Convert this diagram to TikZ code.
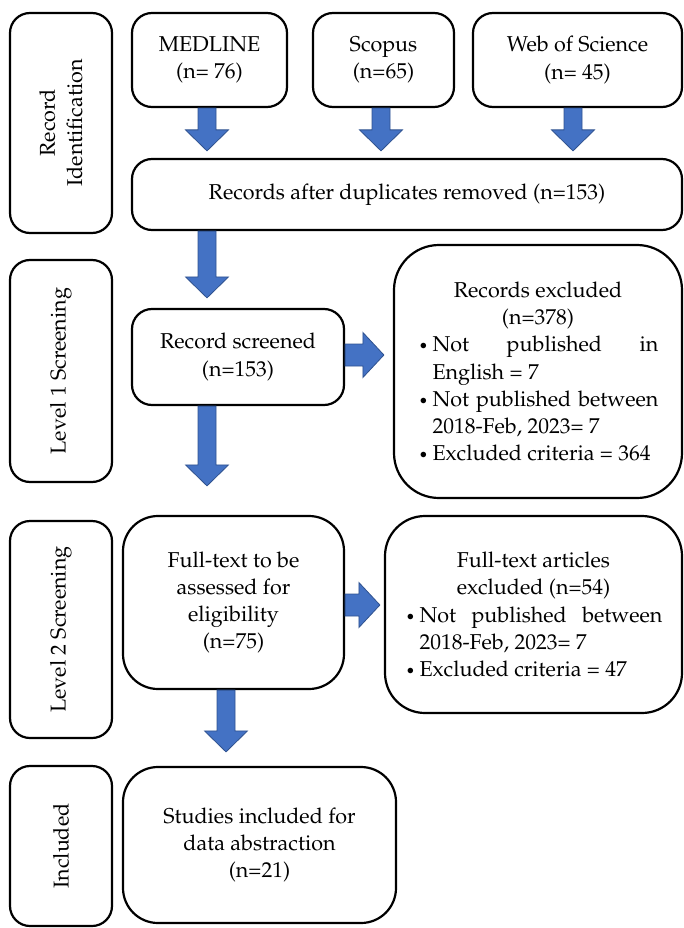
\documentclass[tikz,border=0pt]{standalone}
\usepackage[T1]{fontenc}
\usepackage{mathpazo}
\usetikzlibrary{calc}

\definecolor{arrowfill}{HTML}{4472C4}
\definecolor{arrowedge}{HTML}{2F528F}

% bullet line with hanging indent
\newcommand{\bulletline}{\par\hangindent=15pt\hangafter=1\noindent
  \hbox to 15pt{\hskip1pt{\fontsize{16}{16}\selectfont\textbullet}\hfil}}

\tikzset{
  box/.style={draw, line width=2.2pt, rounded corners=20pt, align=center, inner sep=0pt,
    font=\fontsize{21.5}{27.3}\selectfont},
  bigbox/.style={box, rounded corners=40pt},
  sidebox/.style={box, rotate=90, minimum height=102pt},
  fatdown/.style={fill=arrowfill, draw=arrowedge, line width=0.8pt,
    to path={let \p1=(\tikztostart), \p2=(\tikztotarget) in
      (\x1-9pt,\y1) -- (\x1+9pt,\y1) -- (\x1+9pt,\y2+21pt) -- (\x1+21.5pt,\y2+21pt)
      -- (\x1,\y2) -- (\x1-21.5pt,\y2+21pt) -- (\x1-9pt,\y2+21pt) -- cycle}},
  fatright/.style={fill=arrowfill, draw=arrowedge, line width=0.8pt,
    to path={let \p1=(\tikztostart), \p2=(\tikztotarget) in
      (\x1,\y1+11pt) -- (\x2-21pt,\y1+11pt) -- (\x2-21pt,\y1+22.5pt) -- (\x2,\y1)
      -- (\x2-21pt,\y1-22.5pt) -- (\x2-21pt,\y1-11pt) -- (\x1,\y1-11pt) -- cycle}}
}

\begin{document}
\begin{tikzpicture}[x=1pt, y=-1pt]
    \useasboundingbox (0,0) rectangle (683,928);

    % Stage labels
    \node[sidebox, minimum width=220pt] (ident) at (61,123) {Record\\Identification};
    \node[sidebox, minimum width=222pt] (lev1) at (61,371) {Level 1 Screening};
    \node[sidebox, minimum width=217pt] (lev2) at (61,629.5) {Level 2 Screening};
    \node[sidebox, minimum width=160pt] (incl) at (61,846) {Included};

    % Databases
    \node[box, minimum width=155pt, minimum height=94pt] (med) at (209.5,60) {MEDLINE\\(n= 76)};
    \node[box, minimum width=141pt, minimum height=94pt] (sco) at (383.5,60) {Scopus\\(n=65)};
    \node[box, minimum width=209pt, minimum height=94pt] (wos) at (577.5,60) {Web of Science\\(n= 45)};

    % Duplicates removed
    \node[box, minimum width=550pt, minimum height=71pt] (dup) at (407,194.5)
        {Records after duplicates removed (n=153)};

    % Level 1
    \node[box, minimum width=212pt, minimum height=96pt] (scr) at (238,357) {Record screened\\(n=153)};
    \node[bigbox, rounded corners=45pt, minimum width=288pt, minimum height=253pt,
          text width=241pt, align=justify] (ex1) at (538,371.5)
        {\sloppy{\centering Records excluded\par (n=378)\par}
         \bulletline Not published in\linebreak English = 7
         \bulletline Not published between\linebreak 2018-Feb, 2023= 7
         \bulletline Excluded criteria = 364\par};

    % Level 2
    \node[bigbox, rounded corners=35pt, minimum width=221pt, minimum height=173pt] (ft) at (233.5,602.5)
        {Full-text to be\\assessed for\\eligibility\\(n=75)};
    \node[bigbox, minimum width=297pt, minimum height=197pt,
          text width=258pt, align=justify] (ex2) at (533.5,614.5)
        {\sloppy{\centering Full-text articles\par excluded (n=54)\par}
         \bulletline Not published between\linebreak 2018-Feb, 2023= 7
         \bulletline Excluded criteria = 47\par};

    % Included
    \node[bigbox, rounded corners=35pt, minimum width=273pt, minimum height=156pt] (stud) at (259.5,845)
        {Studies included for\\data abstraction\\(n=21)};

    % Block arrows
    \draw[fatdown] ([xshift=-2.5pt]med.south) to ([xshift=-2.5pt,yshift=7pt]med.south |- dup.north);
    \draw[fatdown] ([xshift=-2.5pt]sco.south) to ([xshift=-2.5pt,yshift=7pt]sco.south |- dup.north);
    \draw[fatdown] ([xshift=-4.5pt]wos.south) to ([xshift=-4.5pt,yshift=7pt]wos.south |- dup.north);
    \draw[fatdown] ([xshift=-31pt]scr.north |- dup.south) to ([xshift=-31pt,yshift=10pt]scr.north);
    \draw[fatdown] ([xshift=-31pt]scr.south) to ([xshift=-31pt,yshift=29pt]scr.south |- ft.north);
    \draw[fatdown] ([xshift=-7.5pt]ft.south) to ([xshift=-7.5pt,yshift=14pt]ft.south |- stud.north);
    \draw[fatright] ([yshift=2pt]scr.east) to ([xshift=-9pt,yshift=2pt]scr.east -| ex1.west);
    \draw[fatright] ([yshift=-2.5pt]ft.east) to ([xshift=-4pt,yshift=-2.5pt]ft.east -| ex2.west);
\end{tikzpicture}
\end{document}
